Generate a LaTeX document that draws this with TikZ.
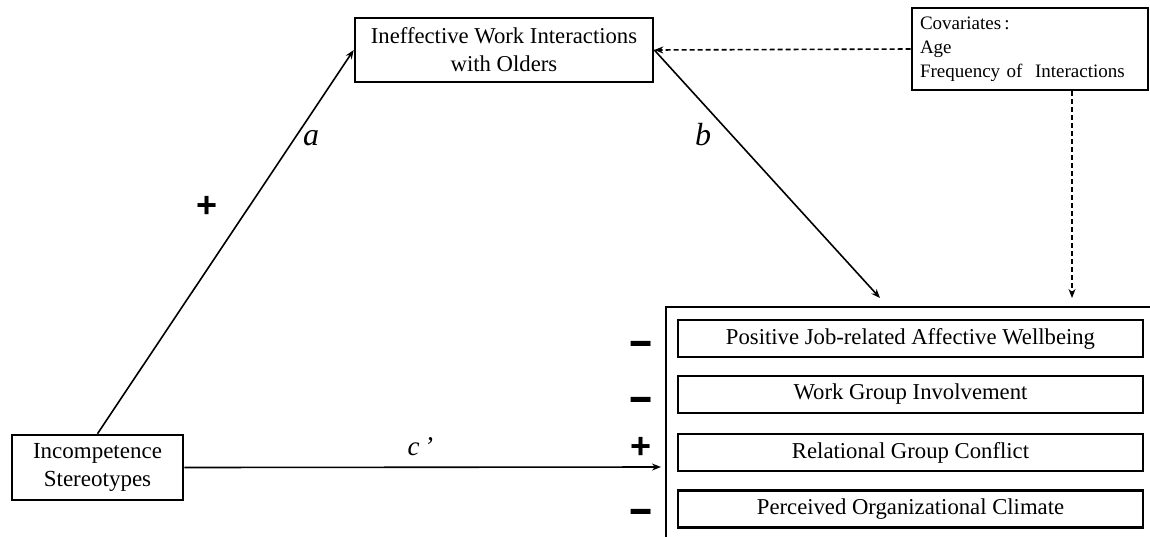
\documentclass[tikz,border=0pt]{standalone}
\usepackage{fontspec}
\setmainfont{Liberation Serif}
\newfontfamily\signfont{Liberation Sans}
\usetikzlibrary{positioning, arrows.meta}

\begin{document}
\begin{tikzpicture}[
    x=1pt, y=-1pt,
    font=\fontsize{22.7}{28}\selectfont,
    % boxes keep fixed sizes, text is set in a Times-like serif
    box/.style     = {draw=black, line width=2.6pt, inner sep=0pt, align=center},
    outcome/.style = {box, minimum width=465pt, minimum height=37pt},
    effect/.style  = {line width=1.6pt, -{Stealth[length=9pt, width=7pt]}},
    covpath/.style = {effect, dash pattern=on 5pt off 3pt},
    coef/.style    = {font=\fontsize{32}{32}\selectfont\itshape},
    sign/.style    = {font=\signfont\bfseries\fontsize{36}{36}\selectfont},
  ]
  \useasboundingbox (0,0) rectangle (1150,536);

  %% ---------- predictor, mediator, covariates ----------
  \node[box, minimum width=171pt, minimum height=65pt, font=\fontsize{23}{28}\selectfont] (inc) at (97.5,467.5)
    {Incompetence\\Stereotypes};
  \node[box, minimum width=298pt, minimum height=64pt] (ineff) at (504,50)
    {Ineffective Work Interactions\\with Olders};
  \node[box, minimum width=236pt, minimum height=82pt, align=left, text width=220pt,
        font=\fontsize{19}{24}\selectfont] (cov) at (1030,49)
    {Covariates\,:\\Age\\Frequency of\ \ Interactions};

  %% ---------- outcomes ----------
  \draw[line width=2.6pt] (666,545) |- (1160,307);
  \node[outcome] (wellbeing) at (910.5,338.5) {Positive Job-related Affective Wellbeing};
  \node[outcome] (involve)   at (910.5,394.5) {Work Group Involvement};
  \node[outcome] (conflict)  at (910.5,452.5) {Relational Group Conflict};
  \node[outcome] (climate)   at (910.5,509)   {Perceived Organizational Climate};

  \node[sign, xscale=1.1, yscale=1.3] (s1) at (641,350) {−};
  \node[sign, xscale=1.1, yscale=1.3] (s2) at (641,406) {−};
  \node[sign] (s3) at (641,448) {+};
  \node[sign, xscale=1.1, yscale=1.3] (s4) at (641,518) {−};

  %% ---------- paths ----------
  \coordinate (btip)   at (880,298);
  \coordinate (covtip) at (1072,298);
  \coordinate (ctip)   at (661,467);

  \draw[effect] (inc.north) -- (ineff.west);
  \draw[effect] (ineff.east) -- (btip);
  \draw[effect] (inc.east) -- (ctip);
  \draw[covpath] (cov.west) -- (ineff.east);
  \draw[covpath] (cov.south -| covtip) -- (covtip);

  \node[coef] (la) at (311,138) {a};
  \node[coef] (lb) at (703,135) {b};
  \node[coef, font=\fontsize{27}{27}\selectfont\itshape, anchor=base west] (lc) at (404,455) {c\,’};
  \node[sign] (plus) at (207,207) {+};
\end{tikzpicture}
\end{document}
